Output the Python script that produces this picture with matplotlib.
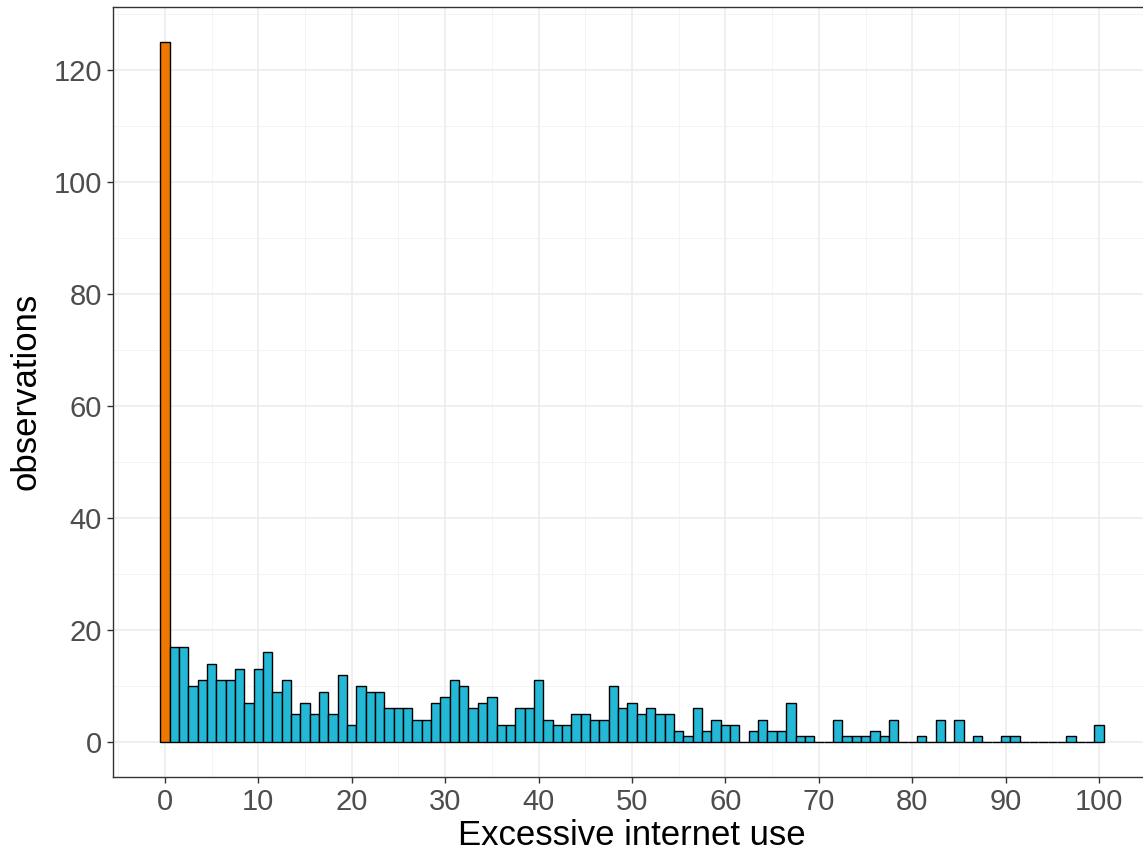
import numpy as np
import matplotlib
matplotlib.use("Agg")
import matplotlib.pyplot as plt

plt.rcParams['font.family'] = ['Liberation Sans', 'DejaVu Sans']

# counts per score value 0..100
scores = np.arange(0, 101)
counts = [125, 17, 17, 10, 11, 14, 11, 11, 13, 7,
          13, 16, 9, 11, 5, 7, 5, 9, 5, 12,
          3, 10, 9, 9, 6, 6, 6, 4, 4, 7,
          8, 11, 10, 6, 7, 8, 3, 3, 6, 6,
          11, 4, 3, 3, 5, 5, 4, 4, 10, 6,
          7, 5, 6, 5, 5, 2, 1, 6, 2, 4,
          3, 3, 0, 2, 4, 2, 2, 7, 1, 1,
          0, 0, 4, 1, 1, 1, 2, 1, 4, 0,
          0, 1, 0, 4, 0, 4, 0, 1, 0, 0,
          1, 1, 0, 0, 0, 0, 0, 1, 0, 0,
          3]
x_ticks = [0, 10, 20, 30, 40, 50, 60, 70, 80, 90, 100]
y_ticks = [0, 20, 40, 60, 80, 100, 120]

orange = '#EE7700'
blue = '#23B8D5'
colors = [orange if s == 0 else blue for s in scores]

fig = plt.figure(figsize=(11.43, 8.58), dpi=100)
W, H = 1143, 858
ax = fig.add_axes([113 / W, 1 - 777 / H, (1151 - 113) / W, (777 - 6.5) / H])

ax.bar(scores, counts, width=1.0, color=colors, edgecolor='black', linewidth=1.0, zorder=3)

ax.set_xticks(x_ticks)
ax.set_yticks(y_ticks)
ax.set_xticks(np.arange(-5, 106, 10), minor=True)
ax.set_yticks(np.arange(10, 131, 20), minor=True)
ax.set_xlim(-5.55, 105.55)
ax.set_ylim(-6.25, 131.25)
ax.grid(True, which='major', color='#EBEBEB', linewidth=1.1, zorder=0)
ax.grid(True, which='minor', color='#F2F2F2', linewidth=0.6, zorder=0)
ax.set_axisbelow(True)

for sp in ax.spines.values():
    sp.set_color('#333333')
    sp.set_linewidth(1.0)

ax.tick_params(axis='both', which='major', labelsize=21, colors='#333333',
               labelcolor='#4D4D4D', length=4, width=1.0, pad=4)
ax.tick_params(axis='both', which='minor', length=0)

ax.set_xlabel('Excessive internet use', fontsize=25, color='black', labelpad=2)
ax.set_ylabel('observations', fontsize=25, color='black', labelpad=8)

fig.savefig('out.png', dpi=100)
